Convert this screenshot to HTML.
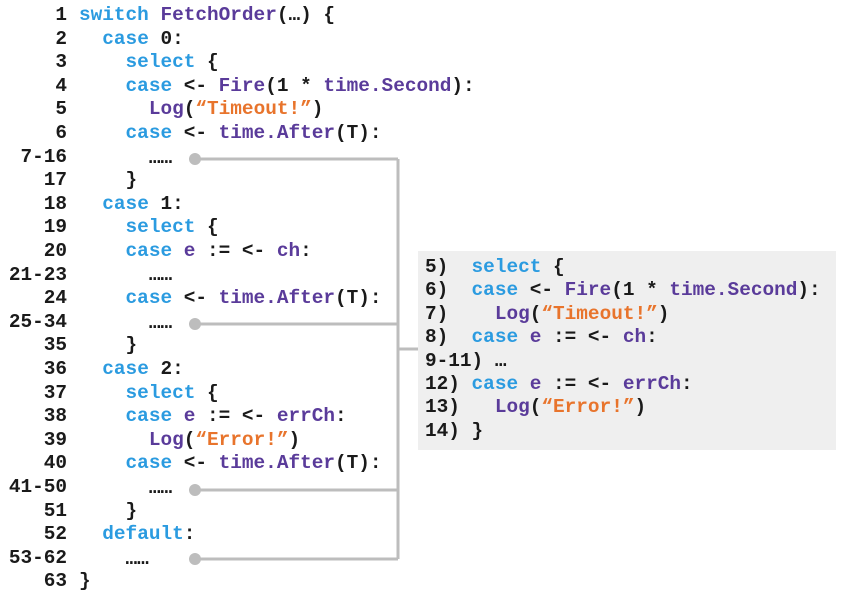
<!DOCTYPE html>
<html><head><meta charset="utf-8"><style>
body{margin:0;width:847px;height:600px;background:#fff;position:relative;overflow:hidden}
.l{position:absolute;height:22px;line-height:22px;white-space:pre;font-family:"Liberation Mono",monospace;font-weight:bold;font-size:19.4px;color:#1a1a1a}
.n{left:0;width:67px;text-align:right}
.c{left:79px}
.x{left:425px}
.b{color:#2b9be0}.p{color:#5a3b9a}.o{color:#e8742c}
#box{position:absolute;left:418px;top:251px;width:418px;height:199px;background:#efefef}
</style></head><body>
<div id="box"></div>
<svg width="847" height="600" style="position:absolute;left:0;top:0">
<g stroke="#bdbdbd" stroke-width="3" fill="none">
<path d="M195 159H398M195 324H398M195 490H398M195 559H398M398 159V559M398 349H418"/>
</g>
<g fill="#bdbdbd"><circle cx="195" cy="159" r="6"/><circle cx="195" cy="324" r="6"/><circle cx="195" cy="490" r="6"/><circle cx="195" cy="559" r="6"/></g>
</svg>
<div class="l n" style="top:4px">1</div><div class="l c" style="top:4px"><span class="b">switch</span> <span class="p">FetchOrder</span>(…) {</div>
<div class="l n" style="top:27.6px">2</div><div class="l c" style="top:27.6px">  <span class="b">case</span> 0:</div>
<div class="l n" style="top:51.2px">3</div><div class="l c" style="top:51.2px">    <span class="b">select</span> {</div>
<div class="l n" style="top:74.8px">4</div><div class="l c" style="top:74.8px">    <span class="b">case</span> &lt;- <span class="p">Fire</span>(1 * <span class="p">time.Second</span>):</div>
<div class="l n" style="top:98.4px">5</div><div class="l c" style="top:98.4px">      <span class="p">Log</span>(<span class="o">“Timeout!”</span>)</div>
<div class="l n" style="top:122px">6</div><div class="l c" style="top:122px">    <span class="b">case</span> &lt;- <span class="p">time.After</span>(T):</div>
<div class="l n" style="top:145.6px">7-16</div><div class="l c" style="top:146.6px">      ……</div>
<div class="l n" style="top:169.2px">17</div><div class="l c" style="top:169.2px">    }</div>
<div class="l n" style="top:192.8px">18</div><div class="l c" style="top:192.8px">  <span class="b">case</span> 1:</div>
<div class="l n" style="top:216.4px">19</div><div class="l c" style="top:216.4px">    <span class="b">select</span> {</div>
<div class="l n" style="top:240px">20</div><div class="l c" style="top:240px">    <span class="b">case</span> <span class="p">e</span> := &lt;- <span class="p">ch</span>:</div>
<div class="l n" style="top:263.6px">21-23</div><div class="l c" style="top:263.6px">      ……</div>
<div class="l n" style="top:287.2px">24</div><div class="l c" style="top:287.2px">    <span class="b">case</span> &lt;- <span class="p">time.After</span>(T):</div>
<div class="l n" style="top:310.8px">25-34</div><div class="l c" style="top:311.8px">      ……</div>
<div class="l n" style="top:334.4px">35</div><div class="l c" style="top:334.4px">    }</div>
<div class="l n" style="top:358px">36</div><div class="l c" style="top:358px">  <span class="b">case</span> 2:</div>
<div class="l n" style="top:381.6px">37</div><div class="l c" style="top:381.6px">    <span class="b">select</span> {</div>
<div class="l n" style="top:405.2px">38</div><div class="l c" style="top:405.2px">    <span class="b">case</span> <span class="p">e</span> := &lt;- <span class="p">errCh</span>:</div>
<div class="l n" style="top:428.8px">39</div><div class="l c" style="top:428.8px">      <span class="p">Log</span>(<span class="o">“Error!”</span>)</div>
<div class="l n" style="top:452.4px">40</div><div class="l c" style="top:452.4px">    <span class="b">case</span> &lt;- <span class="p">time.After</span>(T):</div>
<div class="l n" style="top:476px">41-50</div><div class="l c" style="top:477px">      ……</div>
<div class="l n" style="top:499.6px">51</div><div class="l c" style="top:499.6px">    }</div>
<div class="l n" style="top:523.2px">52</div><div class="l c" style="top:523.2px">  <span class="b">default</span>:</div>
<div class="l n" style="top:546.8px">53-62</div><div class="l c" style="top:547.8px">    ……</div>
<div class="l n" style="top:570.4px">63</div><div class="l c" style="top:570.4px">}</div>
<div class="l x" style="top:256px">5)  <span class="b">select</span> {</div>
<div class="l x" style="top:279.4px">6)  <span class="b">case</span> &lt;- <span class="p">Fire</span>(1 * <span class="p">time.Second</span>):</div>
<div class="l x" style="top:302.8px">7)    <span class="p">Log</span>(<span class="o">“Timeout!”</span>)</div>
<div class="l x" style="top:326.2px">8)  <span class="b">case</span> <span class="p">e</span> := &lt;- <span class="p">ch</span>:</div>
<div class="l x" style="top:349.6px">9-11) …</div>
<div class="l x" style="top:373px">12) <span class="b">case</span> <span class="p">e</span> := &lt;- <span class="p">errCh</span>:</div>
<div class="l x" style="top:396.4px">13)   <span class="p">Log</span>(<span class="o">“Error!”</span>)</div>
<div class="l x" style="top:419.8px">14) }</div>
</body></html>
